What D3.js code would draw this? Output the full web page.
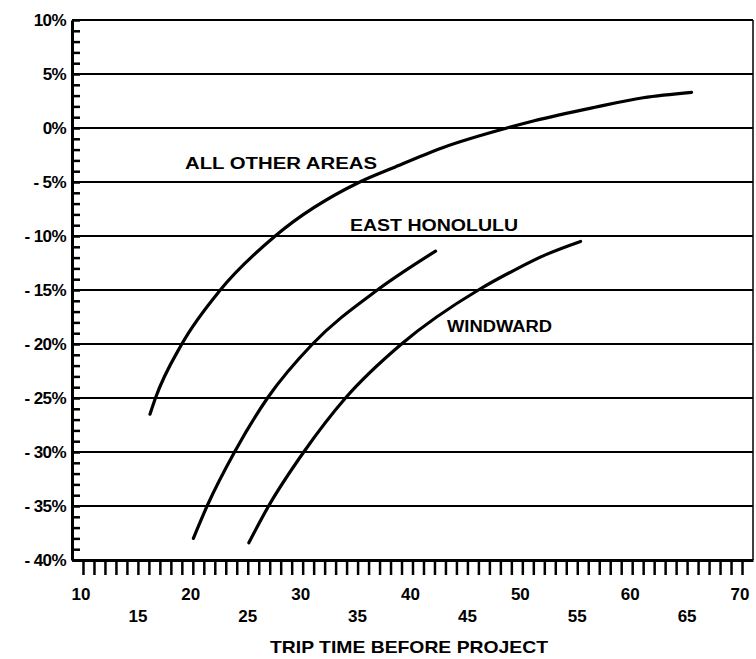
<!DOCTYPE html>
<html>
<head>
<meta charset="utf-8">
<script src="https://cdn.jsdelivr.net/npm/d3@7"></script>
<style>
  html, body { margin: 0; padding: 0; background: #fff; }
  svg { display: block; }
  text { font-family: "Liberation Sans", Arial, sans-serif; fill: #000; }
</style>
</head>
<body>
<svg id="chart" width="756" height="659"></svg>
<script>
// Trip time before project (minutes) vs. percent change
const allOtherX = [16.1, 16.6, 19.0, 22.5, 27.5, 35.2, 38.2, 42.8, 48.6, 51.0, 56.5, 61.0, 65.4];
const allOtherY = [-26.5, -25, -20, -15, -10, -5, -3.7, -1.8, 0, 0.65, 1.9, 2.8, 3.3];

const eastHonoluluX = [20.05, 21.3, 23.8, 26.8, 30.9, 36.8, 42.1];
const eastHonoluluY = [-38.0, -35, -30, -25, -20, -15, -11.4];

const windwardX = [25.1, 26.9, 30.1, 33.9, 39.0, 46.0, 49.2, 52.2, 55.3];
const windwardY = [-38.4, -35, -30, -25, -20, -15, -13.2, -11.7, -10.5];

const seriesNames = ["ALL OTHER AREAS", "EAST HONOLULU", "WINDWARD"];

const yTicks = [10, 5, 0, -5, -10, -15, -20, -25, -30, -35, -40];
const xTicksUpper = [10, 20, 30, 40, 50, 60, 70];
const xTicksLower = [15, 25, 35, 45, 55, 65];
const xTitle = "TRIP TIME BEFORE PROJECT";

const svg = d3.select("#chart");

const plot = { left: 72, right: 753, top: 20, bottom: 560 };

const x = d3.scaleLinear().domain([9, 71]).range([plot.left, plot.right]);
const y = d3.scaleLinear().domain([-40, 10]).range([plot.bottom, plot.top]);

// horizontal grid lines every 5%
svg.append("g")
  .selectAll("line")
  .data(yTicks)
  .join("line")
  .attr("x1", plot.left).attr("x2", plot.right)
  .attr("y1", d => y(d)).attr("y2", d => y(d))
  .attr("stroke", "#000").attr("stroke-width", 2.2);

// right border
svg.append("line")
  .attr("x1", plot.right).attr("x2", plot.right)
  .attr("y1", plot.top).attr("y2", plot.bottom)
  .attr("stroke", "#000").attr("stroke-width", 1.5);

// left axis with inward minor ticks every 1%
const yAxis = d3.axisRight(y)
  .tickValues(d3.range(-40, 10.5, 1))
  .tickSize(8)
  .tickSizeOuter(0)
  .tickFormat("");
const gy = svg.append("g").attr("transform", `translate(${plot.left},0)`).call(yAxis);
gy.select(".domain").attr("stroke-width", 3);
gy.selectAll(".tick line").attr("stroke-width", 2.5);

svg.append("g")
  .selectAll("text")
  .data(yTicks)
  .join("text")
  .attr("x", 66)
  .attr("y", d => y(d))
  .attr("dy", "0.36em")
  .attr("text-anchor", "end")
  .attr("font-size", 17)
  .attr("font-weight", "bold")
  .attr("letter-spacing", -0.6)
  .text(d => (d < 0 ? "- " + Math.abs(d) : d) + "%");

// bottom axis with downward ticks every unit
const xAxis = d3.axisBottom(x)
  .tickValues(d3.range(10, 70.5, 1))
  .tickSize(15)
  .tickSizeOuter(0)
  .tickFormat("");
const gx = svg.append("g").attr("transform", `translate(0,${plot.bottom})`).call(xAxis);
gx.select(".domain").attr("stroke-width", 3);
gx.selectAll(".tick line").attr("stroke-width", 2.5);

svg.append("g")
  .selectAll("text")
  .data(xTicksUpper)
  .join("text")
  .attr("x", d => x(d) - 2)
  .attr("y", 594)
  .attr("dy", "0.36em")
  .attr("text-anchor", "middle")
  .attr("font-size", 17)
  .attr("font-weight", "bold")
  .text(d => d);

svg.append("g")
  .selectAll("text")
  .data(xTicksLower)
  .join("text")
  .attr("x", d => x(d))
  .attr("y", 616)
  .attr("dy", "0.36em")
  .attr("text-anchor", "middle")
  .attr("font-size", 17)
  .attr("font-weight", "bold")
  .text(d => d);

svg.append("text")
  .attr("x", 270)
  .attr("y", 647)
  .attr("dy", "0.36em")
  .attr("font-size", 17)
  .attr("font-weight", "bold")
  .attr("textLength", 278)
  .attr("lengthAdjust", "spacingAndGlyphs")
  .text(xTitle);

// curves
const line = d3.line()
  .x(d => x(d[0]))
  .y(d => y(d[1]))
  .curve(d3.curveMonotoneX);

const series = [
  d3.zip(allOtherX, allOtherY),
  d3.zip(eastHonoluluX, eastHonoluluY),
  d3.zip(windwardX, windwardY)
];

svg.append("g")
  .selectAll("path")
  .data(series)
  .join("path")
  .attr("d", line)
  .attr("fill", "none")
  .attr("stroke", "#000")
  .attr("stroke-width", 3.2)
  .attr("stroke-linecap", "round");

// curve labels
const labelPos = [
  { x: 185, y: 163, w: 192 },
  { x: 350, y: 225, w: 168 },
  { x: 447, y: 326, w: 105 }
];
svg.append("g")
  .selectAll("text")
  .data(seriesNames)
  .join("text")
  .attr("x", (d, i) => labelPos[i].x)
  .attr("y", (d, i) => labelPos[i].y)
  .attr("dy", "0.36em")
  .attr("font-size", 16)
  .attr("font-weight", "bold")
  .attr("textLength", (d, i) => labelPos[i].w)
  .attr("lengthAdjust", "spacingAndGlyphs")
  .text(d => d);
</script>
</body>
</html>
